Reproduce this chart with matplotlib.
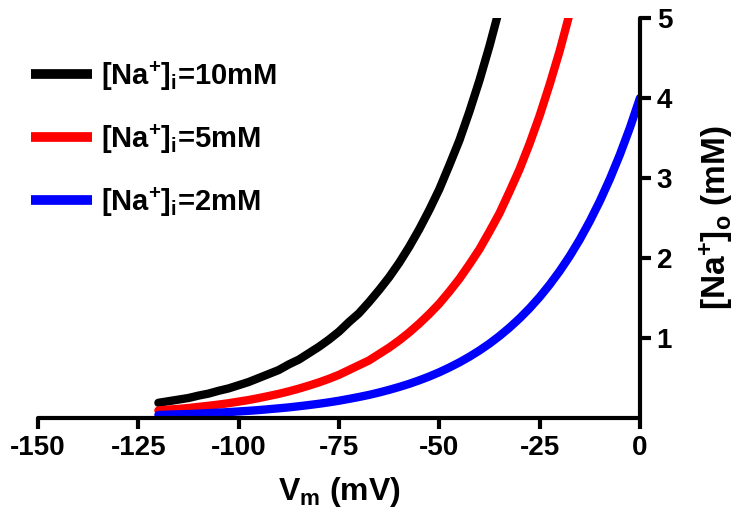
import matplotlib
matplotlib.use("Agg")
import matplotlib.pyplot as plt

plt.rcParams["font.family"] = "Liberation Sans"
plt.rcParams["font.weight"] = "bold"
plt.rcParams["mathtext.fontset"] = "custom"
plt.rcParams["mathtext.rm"] = "Liberation Sans:bold"
plt.rcParams["mathtext.bf"] = "Liberation Sans:bold"
plt.rcParams["mathtext.default"] = "bf"
plt.rcParams["axes.unicode_minus"] = False

# membrane potential (mV)
vm = [-120, -117.5, -115, -112.5, -110, -107.5, -105, -102.5, -100, -97.5,
      -95, -92.5, -90, -87.5, -85, -82.5, -80, -77.5, -75, -72.5,
      -70, -67.5, -65, -62.5, -60, -57.5, -55, -52.5, -50, -47.5,
      -45, -42.5, -40, -37.5, -35, -32.5, -30, -27.5, -25, -22.5,
      -20, -17.5, -15, -12.5, -10, -7.5, -5, -2.5, 0]

# [Na+]o (mM)
na_10 = [0.19, 0.21, 0.23, 0.25, 0.28, 0.305, 0.34, 0.37, 0.41, 0.45,
         0.50, 0.55, 0.60, 0.67, 0.73, 0.81, 0.89, 0.98, 1.08, 1.20,
         1.31, 1.45, 1.60, 1.76, 1.94, 2.14, 2.36, 2.60, 2.86, 3.16,
         3.47, 3.83, 4.22, 4.65, 5.12, 5.65, 6.2, 6.9, 7.6, 8.3,
         9.2, 10.1, 11.2, 12.3, 13.6, 14.9, 16.5, 18.1, 20.0]
na_5 = [0.094, 0.105, 0.114, 0.125, 0.139, 0.153, 0.168, 0.185, 0.205, 0.225,
        0.249, 0.275, 0.302, 0.333, 0.367, 0.405, 0.445, 0.49, 0.54, 0.60,
        0.66, 0.72, 0.80, 0.88, 0.97, 1.07, 1.18, 1.30, 1.43, 1.58,
        1.74, 1.92, 2.11, 2.33, 2.56, 2.83, 3.11, 3.43, 3.78, 4.17,
        4.59, 5.06, 5.58, 6.15, 6.78, 7.47, 8.23, 9.07, 10.0]
na_2 = [0.037, 0.042, 0.046, 0.050, 0.055, 0.061, 0.067, 0.074, 0.082, 0.090,
        0.099, 0.110, 0.121, 0.133, 0.147, 0.162, 0.178, 0.196, 0.216, 0.239,
        0.263, 0.289, 0.319, 0.352, 0.388, 0.427, 0.471, 0.519, 0.572, 0.631,
        0.695, 0.766, 0.844, 0.930, 1.025, 1.130, 1.245, 1.372, 1.512, 1.667,
        1.837, 2.024, 2.231, 2.460, 2.711, 2.988, 3.293, 3.629, 4.0]

labels = ["[Na$^{+}$]$_{i}$=10mM", "[Na$^{+}$]$_{i}$=5mM", "[Na$^{+}$]$_{i}$=2mM"]
colors = ["black", "#ff0000", "#0000ff"]

fig = plt.figure(figsize=(7.35, 5.19), dpi=100)
ax = fig.add_axes([0.0517, 0.1946, 0.8190, 0.7707])

for y, lab, c in zip([na_10, na_5, na_2], labels, colors):
    ax.plot(vm, y, color=c, lw=6, label=lab, solid_capstyle="round")

ax.set_xlim(-150, 0)
ax.set_ylim(0, 5)
ax.spines["top"].set_visible(False)
ax.spines["left"].set_visible(False)
ax.spines["bottom"].set_linewidth(3)
ax.spines["right"].set_linewidth(3)
ax.spines["bottom"].set_capstyle("round")
ax.spines["right"].set_capstyle("round")

ax.set_xticks([-150, -125, -100, -75, -50, -25, 0])
ax.set_yticks([1, 2, 3, 4, 5])
ax.yaxis.tick_right()
ax.yaxis.set_label_position("right")
ax.tick_params(axis="both", direction="out", length=8, width=3, labelsize=20, pad=4)

ax.set_xlabel("V$_{m}$ (mV)", fontsize=23, fontweight="bold", labelpad=10)
ax.set_ylabel("[Na$^{+}$]$_{o}$ (mM)", fontsize=24, fontweight="bold", labelpad=18)

leg = ax.legend(loc="upper left", bbox_to_anchor=(-0.055, 0.9625), frameon=False,
                fontsize=21, handlelength=2.1, handletextpad=0.3, labelspacing=1.02)
for h in leg.get_lines():
    h.set_linewidth(7)
    h.set_solid_capstyle("butt")

fig.savefig("out.png", dpi=100)
